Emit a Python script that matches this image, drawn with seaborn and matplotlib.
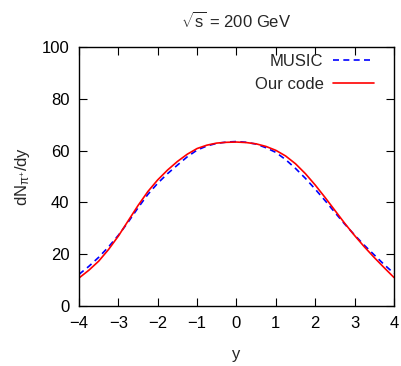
import matplotlib
matplotlib.use("Agg")
import matplotlib.pyplot as plt
import seaborn as sns
import pandas as pd
from matplotlib.lines import Line2D

rapidity = [-4.0, -3.75, -3.5, -3.25, -3.0, -2.75, -2.5, -2.25, -2.0, -1.75, -1.5,
            -1.25, -1.0, -0.75, -0.5, -0.25, 0.0, 0.25, 0.5, 0.75, 1.0, 1.25, 1.5,
            1.75, 2.0, 2.25, 2.5, 2.75, 3.0, 3.25, 3.5, 3.75, 4.0]
our_code = [10.8, 13.8, 17.3, 21.8, 27.0, 32.9, 38.8, 44.2, 48.7, 52.5, 55.8,
            58.6, 60.8, 62.1, 62.9, 63.2, 63.3, 63.1, 62.6, 61.6, 60.1, 57.9, 54.9,
            51.1, 46.7, 41.9, 36.9, 31.9, 27.2, 22.8, 18.7, 14.8, 11.0]
music = [12.2, 15.3, 18.8, 22.8, 27.3, 32.4, 37.9, 43.1, 47.4, 51.1, 54.4,
         57.6, 60.2, 61.8, 62.8, 63.3, 63.5, 63.2, 62.5, 61.1, 59.3, 56.5, 53.1,
         49.3, 45.1, 40.7, 36.1, 31.6, 27.4, 23.4, 19.7, 16.0, 12.6]
series_names = ["MUSIC", "Our code"]
x_ticks = [-4, -3, -2, -1, 0, 1, 2, 3, 4]
y_ticks = [0, 20, 40, 60, 80, 100]

sns.set_style("ticks")
plt.rcParams["font.family"] = ["Liberation Sans", "DejaVu Sans"]
plt.rcParams["mathtext.fontset"] = "custom"
plt.rcParams["mathtext.rm"] = "Liberation Sans"
plt.rcParams["mathtext.it"] = "Liberation Sans"
plt.rcParams["axes.unicode_minus"] = True

df = pd.DataFrame({
    "y": rapidity * 2,
    "dN": music + our_code,
    "series": [series_names[0]] * len(music) + [series_names[1]] * len(our_code),
})

fig = plt.figure(figsize=(4.02, 3.66), dpi=100)
ax = fig.add_axes([0.1965, 0.164, 0.7835, 0.7076])

colors = {series_names[0]: "#0000ff", series_names[1]: "#ff0000"}
dash_map = {series_names[0]: (3.6, 2.6), series_names[1]: ""}
sns.lineplot(data=df, x="y", y="dN", hue="series", style="series",
             palette=colors, dashes=dash_map, linewidth=1.2, ax=ax, legend=False)

handles = [Line2D([], [], color=colors[series_names[0]], lw=1.2, dashes=dash_map[series_names[0]]),
           Line2D([], [], color=colors[series_names[1]], lw=1.2)]
ax.legend(handles, series_names, loc="upper right", frameon=False,
          markerfirst=False, fontsize=12, handlelength=2.5,
          handletextpad=0.55, labelspacing=0.45,
          bbox_to_anchor=(0.985, 1.03))

ax.set_xlim(-4, 4)
ax.set_ylim(0, 100)
ax.set_xticks(x_ticks)
ax.set_yticks(y_ticks)
ax.tick_params(direction="in", length=6, width=0.8, top=True, right=True,
               labelsize=12, colors="black", pad=7)
for s in ax.spines.values():
    s.set_visible(True)
    s.set_linewidth(1.0)
    s.set_color("black")

ax.set_xlabel("y", fontsize=12, labelpad=12)
ax.set_ylabel(r"dN$_{\mathrm{\pi}^{+}}$/dy", fontsize=12, labelpad=7)
ax.set_title(r"$\sqrt{\mathrm{s}}$ = 200 GeV", fontsize=12, pad=14)

fig.savefig("out.png", dpi=100)
